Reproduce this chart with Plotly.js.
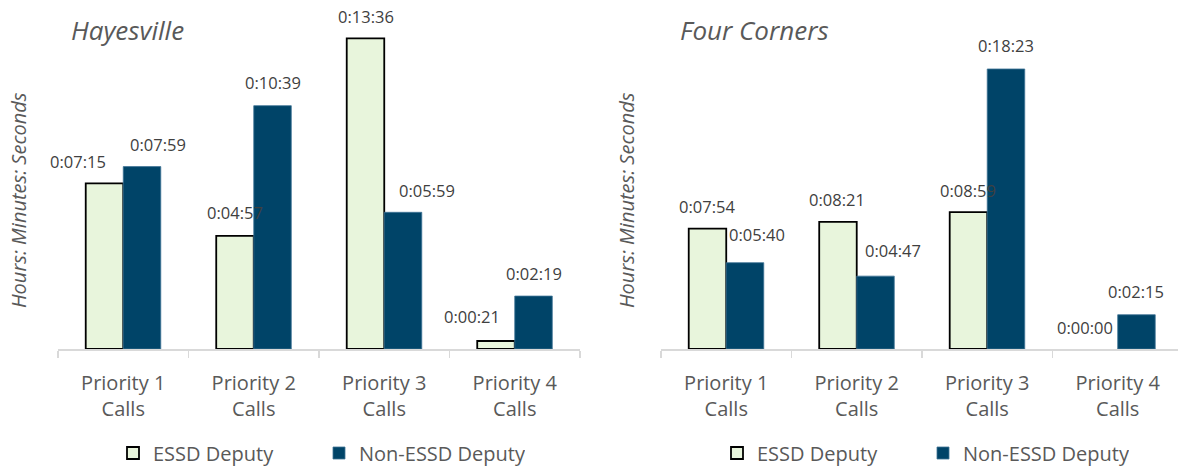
<!DOCTYPE html>
<html>
<head>
<meta charset="utf-8">
<script src="https://cdn.plot.ly/plotly-3.0.1.min.js"></script>
<style>html,body{margin:0;padding:0;background:#fff;}#chart{width:1178px;height:466px;}</style>
</head>
<body>
<div id="chart"></div>
<script>
// ---- data ----
const categories = ['Priority 1 Calls', 'Priority 2 Calls', 'Priority 3 Calls', 'Priority 4 Calls'];
const tickLabels = ['Priority 1<br>Calls', 'Priority 2<br>Calls', 'Priority 3<br>Calls', 'Priority 4<br>Calls'];
const seriesNames = ['ESSD Deputy', 'Non-ESSD Deputy'];
const panelTitles = ['Hayesville', 'Four Corners'];
const yAxisTitle = 'Hours: Minutes: Seconds';
const hayesESSD = ['0:07:15', '0:04:57', '0:13:36', '0:00:21'];
const hayesNonESSD = ['0:07:59', '0:10:39', '0:05:59', '0:02:19'];
const fourESSD = ['0:07:54', '0:08:21', '0:08:59', '0:00:00'];
const fourNonESSD = ['0:05:40', '0:04:47', '0:18:23', '0:02:15'];

// ---- styling / layout helpers ----
const FONT = '"Open Sans", "Noto Sans", sans-serif';
const essdColor = '#E8F5DC';
const nonColor = '#004468';
const toSec = s => { const p = s.split(':').map(Number); return p[0] * 3600 + p[1] * 60 + p[2]; };

// label nudges (px) to mimic manual label placement in the original
const nudgeX = {hE: [-27, 0, 0, -24], hN: [16, 0, 24, 0], fE: [0, -1, 0, -14], fN: [12, 18, 0, 0]};
const nudgeY = {hE: [0, 1, 0, 3], hN: [0, 1, 0, 1], fE: [0, 0, 0, 0], fN: [6, 4, 1, 1]};

function barTrace(vals, name, idx, xa, ya, legend, showlegend) {
  const secs = vals.map(toSec);
  return {
    type: 'bar', x: categories, y: secs, name: name,
    xaxis: xa, yaxis: ya, legend: legend, showlegend: showlegend,
    marker: idx === 0
      ? {color: essdColor, line: {color: '#000000', width: secs.map(s => s > 0 ? 1.8 : 0)}}
      : {color: nonColor, line: {color: '#3f7396', width: 0.8}},
    hoverinfo: 'skip'
  };
}

const data = [
  barTrace(hayesESSD, seriesNames[0], 0, 'x', 'y', 'legend', true),
  barTrace(hayesNonESSD, seriesNames[1], 1, 'x', 'y', 'legend', true),
  barTrace(fourESSD, seriesNames[0], 0, 'x2', 'y2', 'legend2', true),
  barTrace(fourNonESSD, seriesNames[1], 1, 'x2', 'y2', 'legend2', true)
];

const annotations = [];
const BAR_HALF = 18.75;
function addLabels(vals, key, side, xref, yref) {
  vals.forEach((v, j) => {
    annotations.push({
      x: categories[j], y: toSec(v), xref: xref, yref: yref,
      text: v, showarrow: false, xanchor: 'center', yanchor: 'middle',
      xshift: side * BAR_HALF + nudgeX[key][j], yshift: 22 + nudgeY[key][j],
      font: {family: FONT, size: 16.5, color: '#404040'}
    });
  });
}
addLabels(hayesESSD, 'hE', -1, 'x', 'y');
addLabels(hayesNonESSD, 'hN', 1, 'x', 'y');
addLabels(fourESSD, 'fE', -1, 'x2', 'y2');
addLabels(fourNonESSD, 'fN', 1, 'x2', 'y2');

const W = 1178, H = 466, T = 20, B = 117;
const plotH = H - T - B;
const py = y => (H - B - y) / plotH;

annotations.push(
  {text: panelTitles[0], xref: 'paper', yref: 'paper', x: 69 / W, y: py(30), xanchor: 'left', yanchor: 'middle', showarrow: false,
   font: {family: FONT, size: 26, color: '#595959', style: 'italic'}},
  {text: panelTitles[1], xref: 'paper', yref: 'paper', x: 678 / W, y: py(30), xanchor: 'left', yanchor: 'middle', showarrow: false,
   font: {family: FONT, size: 26, color: '#595959', style: 'italic'}},
  {text: yAxisTitle, xref: 'paper', yref: 'paper', x: 18 / W, y: py(200), xanchor: 'center', yanchor: 'middle', textangle: -90, showarrow: false,
   font: {family: FONT, size: 20, color: '#595959', style: 'italic'}},
  {text: yAxisTitle, xref: 'paper', yref: 'paper', x: 626 / W, y: py(200), xanchor: 'center', yanchor: 'middle', textangle: -90, showarrow: false,
   font: {family: FONT, size: 20, color: '#595959', style: 'italic'}}
);

const xCommon = {
  type: 'category', tickmode: 'array', tickvals: categories, ticktext: tickLabels,
  showline: true, linecolor: '#D9D9D9', linewidth: 1.5, automargin: false,
  ticks: 'outside', tickson: 'boundaries', ticklen: 7, tickcolor: '#D9D9D9', tickwidth: 1.5,
  showgrid: false, zeroline: false, ticklabelstandoff: 15,
  tickfont: {family: FONT, size: 20, color: '#595959'}, fixedrange: true
};
const yCommon = {showticklabels: false, showgrid: false, zeroline: false, showline: false, ticks: '', fixedrange: true, automargin: false};

const legendCommon = {
  orientation: 'h', xanchor: 'left', yanchor: 'middle', yref: 'container', xref: 'container', y: 1 - 453 / H,
  font: {family: FONT, size: 20, color: '#595959'},
  entrywidth: 161, entrywidthmode: 'pixels', bgcolor: 'rgba(0,0,0,0)', traceorder: 'normal'
};

const layout = {
  width: W, height: H,
  margin: {l: 0, r: 0, t: T, b: B, pad: 0, autoexpand: false},
  paper_bgcolor: '#ffffff', plot_bgcolor: '#ffffff',
  barmode: 'group', bargap: 0.425, bargroupgap: 0,
  xaxis: Object.assign({}, xCommon, {domain: [58 / W, 580 / W], range: [-0.5, 3.5], anchor: 'y'}),
  xaxis2: Object.assign({}, xCommon, {domain: [661 / W, 1], range: [-0.5, 3.462], anchor: 'y2'}),
  yaxis: Object.assign({}, yCommon, {range: [0, 864], anchor: 'x', domain: [0, 1]}),
  yaxis2: Object.assign({}, yCommon, {range: [0, 1296], anchor: 'x2', domain: [0, 1]}),
  legend: Object.assign({}, legendCommon, {x: 113 / W}),
  legend2: Object.assign({}, legendCommon, {x: 717 / W}),
  annotations: annotations,
  showlegend: true
};

Plotly.newPlot('chart', data, layout, {staticPlot: true, displayModeBar: false});
</script>
</body>
</html>
